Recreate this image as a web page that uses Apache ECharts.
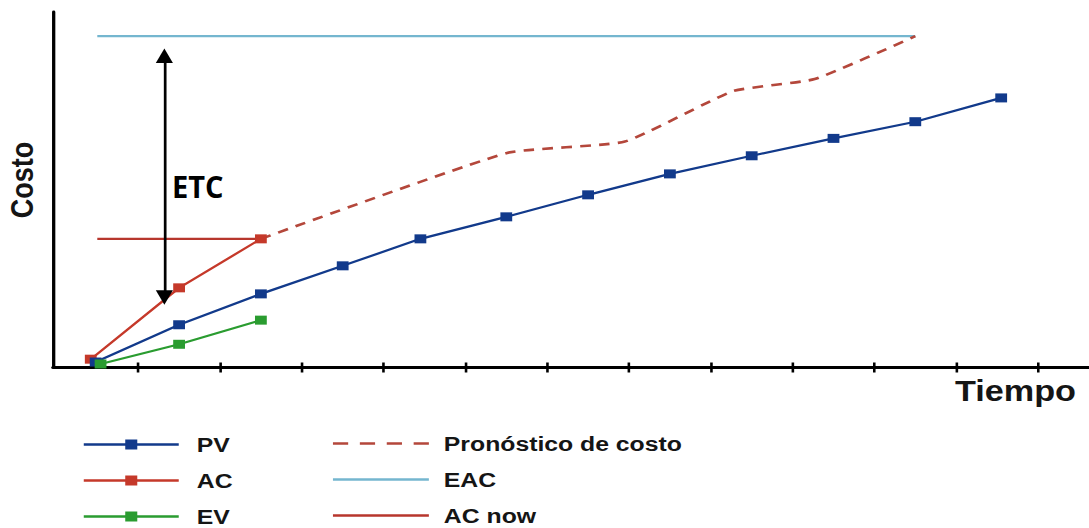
<!DOCTYPE html>
<html>
<head>
<meta charset="utf-8">
<title>Costo vs Tiempo</title>
<script src="https://cdn.jsdelivr.net/npm/echarts@6/dist/echarts.min.js"></script>
<style>
  html, body { margin: 0; padding: 0; background: #ffffff; overflow: hidden; }
  /* the figure is laid out at a narrower width and stretched to fill the banner */
  #chart { width: 923px; height: 528px; transform: scaleX(1.17985); transform-origin: 0 0; }
</style>
</head>
<body>
<div id="chart"></div>
<script>
// ---- data: time periods (x) and cost (y) ----
const timeTicks = [1, 2, 3, 4, 5, 6, 7, 8, 9, 10, 11, 12];

const pvTime = [0.48, 1.5, 2.5, 3.5, 4.45, 5.5, 6.5, 7.5, 8.5, 9.5, 10.5, 11.55];
const pvCost = [1.4, 11.9, 20.6, 28.5, 36.1, 42.3, 48.5, 54.4, 59.5, 64.4, 69.1, 75.8];

const acTime = [0.42, 1.5, 2.5];
const acCost = [2.2, 22.3, 36.1];

const evTime = [0.54, 1.5, 2.5];
const evCost = [0.85, 6.4, 13.2];

const forecastTime = [2.5, 5.51, 6.95, 8.27, 9.27, 10.5];
const forecastCost = [36.1, 60.3, 63.5, 77.7, 81.1, 93.2];

const eacTime = [0.5, 10.5];
const eacCost = [93.2, 93.2];

const acNowTime = [0.5, 2.5];
const acNowCost = [36.1, 36.1];

// ETC arrow: vertical double arrow between the two cost levels
const etcArrow = { at: 1.32, from: 19.6, to: 87.7 };

// ---- helpers ----
const pairs = (xs, ys) => xs.map((x, i) => [x, ys[i]]);

const FONT = '"Liberation Sans", Arial, Helvetica, sans-serif';
const INK = '#151515';

// legend glyphs: line with a square marker, dashed line, plain line
const markerLineIcon = 'path://M0,3.75L35.15,3.75L35.15,0L45.35,0L45.35,3.75L80.5,3.75L80.5,6.25L45.35,6.25L45.35,10L35.15,10L35.15,6.25L0,6.25Z';
const dashIcon = 'path://M0,0L12.9,0L12.9,2.6L0,2.6Z M22.8,0L35.7,0L35.7,2.6L22.8,2.6Z M45.6,0L58.5,0L58.5,2.6L45.6,2.6Z M68.4,0L81.3,0L81.3,2.6L68.4,2.6Z';
const solidIcon = 'path://M0,0L81.3,0L81.3,2.6L0,2.6Z';

const legendText = { color: INK, fontFamily: FONT, fontWeight: 'bold', fontSize: 21, lineHeight: 21 };

const xCommon = {
  type: 'value', min: -0.0415, max: 13,
  axisLabel: { show: false }, splitLine: { show: false }
};

const option = {
  backgroundColor: '#ffffff',
  animation: false,
  grid: { left: 44.92, right: -26.1, top: 12, bottom: 161, containLabel: false, outerBoundsMode: 'none' },
  xAxis: [
    Object.assign({}, xCommon, {
      position: 'bottom',
      axisLine: { show: true, onZero: false, lineStyle: { color: '#000', width: 3 } },
      axisTick: { show: true, customValues: timeTicks, length: 5.5, inside: false, lineStyle: { color: '#000', width: 2.2 } }
    }),
    // second axis only carries the upper half of the crossing tick marks
    Object.assign({}, xCommon, {
      position: 'top', offset: -355,
      axisLine: { show: false },
      axisTick: { show: true, customValues: timeTicks, length: 4.5, inside: false, lineStyle: { color: '#000', width: 2.2 } }
    })
  ],
  yAxis: {
    type: 'value', min: 0, max: 100,
    axisLine: { show: true, onZero: false, lineStyle: { color: '#000', width: 2.8 } },
    axisTick: { show: false }, axisLabel: { show: false }, splitLine: { show: false }
  },
  legend: [
    {
      orient: 'vertical', left: 71, top: 434, height: 120, padding: 0,
      itemWidth: 101.1, itemHeight: 10, itemGap: 15,
      itemStyle: { borderWidth: 0 },
      textStyle: legendText,
      data: [
        { name: 'PV', icon: markerLineIcon },
        { name: 'AC', icon: markerLineIcon },
        { name: 'EV', icon: markerLineIcon }
      ]
    },
    {
      orient: 'vertical', left: 282.2, top: 433, height: 120, padding: 0,
      itemWidth: 96.7, itemHeight: 2.6, itemGap: 15,
      itemStyle: { borderWidth: 0 },
      textStyle: legendText,
      data: [
        { name: 'Pronóstico de costo', icon: dashIcon },
        { name: 'EAC', icon: solidIcon },
        { name: 'AC now', icon: solidIcon }
      ]
    }
  ],
  graphic: [
    {
      type: 'text', x: 18.65, y: 180, rotation: Math.PI / 2, silent: true,
      style: { text: 'Costo', align: 'center', verticalAlign: 'middle', fontFamily: FONT, fontWeight: 'bold', fontSize: 27, fill: INK }
    },
    {
      type: 'text', x: 809.4, y: 391, silent: true,
      style: { text: 'Tiempo', align: 'left', verticalAlign: 'middle', fontFamily: FONT, fontWeight: 'bold', fontSize: 29, fill: INK }
    },
    {
      type: 'text', x: 145.8, y: 186.6, scaleX: 0.82, silent: true,
      style: { text: 'ETC', align: 'left', verticalAlign: 'middle', fontFamily: '"Open Sans", "Noto Sans", sans-serif', fontWeight: 'bold', fontSize: 30, fill: '#000' }
    }
  ],
  series: [
    {
      name: 'AC now', type: 'line', data: pairs(acNowTime, acNowCost),
      color: '#b7362d', symbol: 'none', lineStyle: { width: 2.2 }, silent: true
    },
    {
      name: 'EAC', type: 'line', data: pairs(eacTime, eacCost),
      color: '#74b6cf', symbol: 'none', lineStyle: { width: 2.2 }, silent: true,
      markLine: {
        silent: true, animation: false,
        symbol: ['triangle', 'triangle'],
        symbolSize: 14.5,
        label: { show: false },
        emphasis: { disabled: true },
        lineStyle: { color: '#000', width: 2.3, type: 'solid' },
        data: [[{ coord: [etcArrow.at, etcArrow.from] }, { coord: [etcArrow.at, etcArrow.to] }]]
      }
    },
    {
      name: 'Pronóstico de costo', type: 'line', data: pairs(forecastTime, forecastCost),
      color: '#b4473b', symbol: 'none', smooth: 0.15, silent: true,
      lineStyle: { width: 2.6, type: [9, 7] }
    },
    {
      name: 'AC', type: 'line', data: pairs(acTime, acCost),
      color: '#c5392a', symbol: 'rect', symbolSize: [10, 9], showAllSymbol: true,
      itemStyle: { borderWidth: 0 }, lineStyle: { width: 2.2 }
    },
    {
      name: 'PV', type: 'line', data: pairs(pvTime, pvCost),
      color: '#123a8b', symbol: 'rect', symbolSize: [10, 9], showAllSymbol: true,
      itemStyle: { borderWidth: 0 }, lineStyle: { width: 2.2 }
    },
    {
      name: 'EV', type: 'line', data: pairs(evTime, evCost),
      color: '#2a9c30', symbol: 'rect', symbolSize: [10, 9], showAllSymbol: true,
      itemStyle: { borderWidth: 0 }, lineStyle: { width: 2.2 }
    }
  ]
};

const chart = echarts.init(document.getElementById('chart'), null, { renderer: 'svg' });
chart.setOption(option);
</script>
</body>
</html>
